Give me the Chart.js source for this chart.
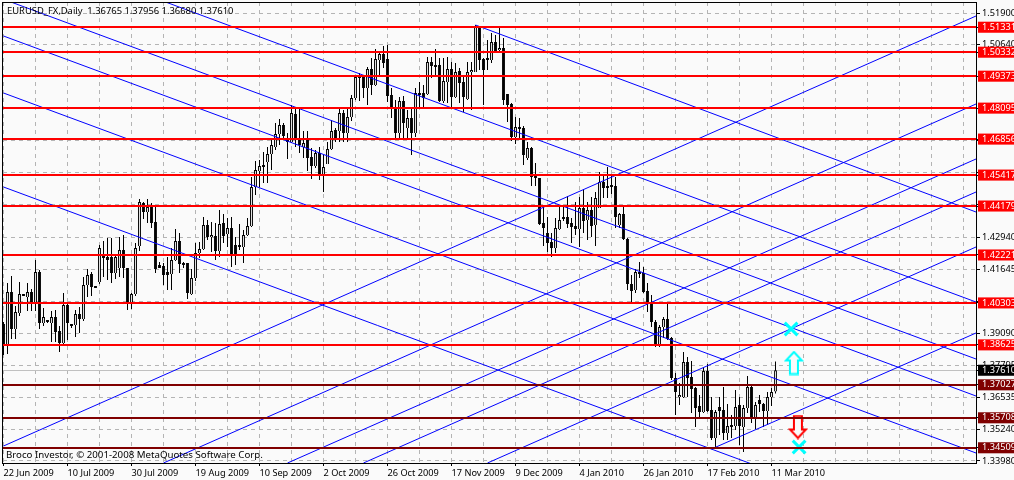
<!DOCTYPE html>
<html>
<head>
<meta charset="utf-8">
<title>EURUSD_FX,Daily</title>
<script src="https://cdn.jsdelivr.net/npm/chart.js@4"></script>
<style>html,body{margin:0;padding:0;background:#fafafa;overflow:hidden}canvas{display:block}</style>
</head>
<body>
<canvas id="c" width="1014" height="480"></canvas>
<script>
const highs=[
1.3954,1.4110,1.4138,1.4018,1.4114,1.4062,1.4110,1.4086,1.4202,1.4162,
1.4010,1.3962,1.3998,1.4002,1.3938,1.4070,1.4030,1.3942,1.4002,1.4014,
1.4134,1.4166,1.4154,1.4098,1.4262,1.4278,1.4290,1.4290,1.4226,1.4294,
1.4302,1.4170,1.4070,1.4270,1.4446,1.4434,1.4446,1.4430,1.4414,1.4194,
1.4190,1.4214,1.4250,1.4326,1.4310,1.4194,1.4190,1.4166,1.4270,1.4274,
1.4374,1.4362,1.4354,1.4350,1.4402,1.4386,1.4370,1.4374,1.4294,1.4346,
1.4322,1.4370,1.4534,1.4598,1.4602,1.4634,1.4654,1.4690,1.4750,1.4766,
1.4750,1.4710,1.4822,1.4810,1.4806,1.4718,1.4718,1.4650,1.4642,1.4654,
1.4622,1.4674,1.4762,1.4730,1.4810,1.4802,1.4810,1.4862,1.4942,1.4950,
1.4942,1.4974,1.5010,1.5046,1.5034,1.5058,1.5062,1.4890,1.4842,1.4854,
1.4858,1.4802,1.4814,1.4890,1.4914,1.4902,1.5014,1.5014,1.5046,1.5010,
1.5010,1.5014,1.4994,1.4990,1.4970,1.4934,1.4994,1.4994,1.5142,1.5138,
1.5010,1.5082,1.5110,1.5102,1.5130,1.5090,1.4866,1.4830,1.4774,1.4770,
1.4738,1.4674,1.4654,1.4590,1.4530,1.4414,1.4374,1.4310,1.4370,1.4414,
1.4414,1.4458,1.4370,1.4434,1.4454,1.4486,1.4434,1.4454,1.4474,1.4554,
1.4542,1.4574,1.4542,1.4534,1.4390,1.4414,1.4290,1.4142,1.4166,1.4194,
1.4174,1.4110,1.4062,1.3962,1.3942,1.3974,1.4026,1.3894,1.3750,1.3710,
1.3834,1.3814,1.3798,1.3694,1.3662,1.3774,1.3786,1.3654,1.3602,1.3654,
1.3694,1.3626,1.3582,1.3682,1.3654,1.3622,1.3738,1.3702,1.3634,1.3662,
1.3630,1.3674,1.3690,1.37956];
const lows=[
1.3822,1.3826,1.3886,1.3886,1.3978,1.4058,1.3998,1.3998,1.3998,1.3926,
1.3938,1.3950,1.3874,1.3874,1.3834,1.3858,1.3882,1.3930,1.3894,1.3910,
1.3958,1.4054,1.4058,1.4090,1.4106,1.4134,1.4122,1.4110,1.4126,1.4134,
1.4130,1.4002,1.4006,1.4058,1.4238,1.4366,1.4350,1.4330,1.4150,1.4170,
1.4102,1.4082,1.4082,1.4198,1.4150,1.4170,1.4046,1.4062,1.4118,1.4210,
1.4242,1.4282,1.4234,1.4202,1.4214,1.4270,1.4254,1.4174,1.4182,1.4242,
1.4190,1.4298,1.4334,1.4462,1.4494,1.4510,1.4510,1.4562,1.4642,1.4662,
1.4682,1.4606,1.4670,1.4654,1.4630,1.4610,1.4558,1.4526,1.4570,1.4522,
1.4474,1.4586,1.4642,1.4674,1.4674,1.4674,1.4674,1.4758,1.4842,1.4838,
1.4850,1.4822,1.4862,1.4898,1.4938,1.4970,1.4834,1.4770,1.4686,1.4682,
1.4682,1.4682,1.4622,1.4694,1.4814,1.4814,1.4862,1.4930,1.4934,1.4834,
1.4830,1.4830,1.4810,1.4850,1.4830,1.4794,1.4842,1.4802,1.4954,1.4962,
1.4822,1.4962,1.4990,1.5030,1.5034,1.4822,1.4754,1.4678,1.4666,1.4682,
1.4582,1.4602,1.4498,1.4498,1.4342,1.4258,1.4234,1.4214,1.4230,1.4322,
1.4358,1.4330,1.4270,1.4302,1.4254,1.4310,1.4282,1.4294,1.4258,1.4410,
1.4450,1.4450,1.4466,1.4330,1.4330,1.4282,1.4082,1.4034,1.4070,1.4130,
1.4070,1.3994,1.3934,1.3854,1.3854,1.3890,1.3882,1.3722,1.3582,1.3622,
1.3650,1.3654,1.3590,1.3534,1.3574,1.3590,1.3594,1.3482,1.3450,1.3502,
1.3482,1.3482,1.3490,1.3522,1.3462,1.3434,1.3590,1.3550,1.3526,1.3594,
1.3534,1.3542,1.3618,1.3668];
const opens=[
1.3946,1.3858,1.4074,1.3926,1.3990,1.4062,1.4054,1.4074,1.4034,1.4154,
1.3950,1.3960,1.3950,1.3974,1.3918,1.3870,1.4022,1.3942,1.3942,1.3986,
1.3966,1.4102,1.4146,1.4098,1.4114,1.4218,1.4214,1.4214,1.4150,1.4170,
1.4242,1.4170,1.4034,1.4066,1.4258,1.4430,1.4394,1.4414,1.4354,1.4182,
1.4178,1.4154,1.4146,1.4202,1.4278,1.4186,1.4190,1.4066,1.4130,1.4230,
1.4246,1.4342,1.4294,1.4298,1.4238,1.4350,1.4306,1.4330,1.4262,1.4258,
1.4254,1.4302,1.4338,1.4494,1.4558,1.4582,1.4594,1.4626,1.4654,1.4706,
1.4742,1.4686,1.4674,1.4786,1.4686,1.4654,1.4682,1.4614,1.4578,1.4630,
1.4546,1.4586,1.4646,1.4722,1.4718,1.4790,1.4710,1.4774,1.4850,1.4934,
1.4934,1.4890,1.4966,1.4902,1.5002,1.5026,1.5006,1.4862,1.4810,1.4710,
1.4838,1.4730,1.4770,1.4710,1.4870,1.4870,1.4866,1.4994,1.4978,1.4982,
1.4838,1.4914,1.4966,1.4854,1.4958,1.4914,1.4846,1.4954,1.4954,1.5134,
1.5006,1.5010,1.5002,1.5074,1.5042,1.5050,1.4866,1.4826,1.4694,1.4734,
1.4730,1.4610,1.4650,1.4538,1.4530,1.4350,1.4310,1.4274,1.4250,1.4326,
1.4374,1.4374,1.4350,1.4338,1.4326,1.4410,1.4362,1.4402,1.4342,1.4410,
1.4514,1.4498,1.4498,1.4498,1.4342,1.4386,1.4286,1.4106,1.4082,1.4154,
1.4150,1.4078,1.4030,1.3954,1.3866,1.3934,1.3966,1.3890,1.3730,1.3654,
1.3654,1.3794,1.3734,1.3690,1.3618,1.3594,1.3758,1.3602,1.3490,1.3614,
1.3602,1.3510,1.3542,1.3538,1.3622,1.3534,1.3610,1.3694,1.3574,1.3642,
1.3626,1.3598,1.3654,1.36765];
const closes=[
1.3862,1.4074,1.3926,1.3994,1.4066,1.4058,1.4074,1.4034,1.4154,1.3950,
1.3974,1.3954,1.3974,1.3914,1.3870,1.4022,1.3950,1.3938,1.3986,1.3966,
1.4102,1.4142,1.4094,1.4090,1.4250,1.4210,1.4202,1.4150,1.4214,1.4242,
1.4170,1.4034,1.4066,1.4250,1.4434,1.4394,1.4414,1.4350,1.4166,1.4170,
1.4142,1.4142,1.4202,1.4278,1.4186,1.4182,1.4070,1.4130,1.4230,1.4246,
1.4342,1.4294,1.4298,1.4238,1.4346,1.4298,1.4330,1.4218,1.4218,1.4254,
1.4302,1.4338,1.4494,1.4562,1.4578,1.4574,1.4626,1.4662,1.4706,1.4742,
1.4698,1.4674,1.4790,1.4690,1.4662,1.4670,1.4610,1.4578,1.4630,1.4546,
1.4574,1.4646,1.4718,1.4690,1.4790,1.4710,1.4774,1.4850,1.4934,1.4930,
1.4890,1.4966,1.4902,1.5006,1.5026,1.4990,1.4858,1.4806,1.4710,1.4838,
1.4750,1.4770,1.4710,1.4870,1.4862,1.4850,1.4994,1.4978,1.4974,1.4838,
1.4918,1.4966,1.4854,1.4954,1.4910,1.4854,1.4954,1.4958,1.5134,1.5002,
1.4962,1.5002,1.5074,1.5038,1.5050,1.4842,1.4822,1.4694,1.4734,1.4726,
1.4622,1.4650,1.4534,1.4530,1.4346,1.4330,1.4270,1.4250,1.4330,1.4362,
1.4366,1.4346,1.4334,1.4326,1.4410,1.4358,1.4402,1.4338,1.4450,1.4514,
1.4490,1.4490,1.4494,1.4374,1.4386,1.4286,1.4106,1.4078,1.4154,1.4146,
1.4074,1.4034,1.3954,1.3866,1.3934,1.3966,1.3886,1.3730,1.3674,1.3658,
1.3794,1.3730,1.3686,1.3610,1.3594,1.3758,1.3598,1.3490,1.3594,1.3598,
1.3510,1.3538,1.3534,1.3614,1.3538,1.3610,1.3694,1.3574,1.3622,1.3626,
1.3598,1.3654,1.3674,1.3761];

const dateLabels=['22 Jun 2009','10 Jul 2009','30 Jul 2009','19 Aug 2009','10 Sep 2009','2 Oct 2009','26 Oct 2009','17 Nov 2009','9 Dec 2009','4 Jan 2010','26 Jan 2010','17 Feb 2010','11 Mar 2010'];
const resistanceLevels=[1.51331,1.50332,1.49373,1.48095,1.46856,1.45417,1.44179,1.42221,1.40303,1.38625];
const supportLevels=[1.37027,1.35708,1.34509];
const lastPrice=[1.37610];
const axisPrices=[1.51900,1.50640,1.49350,1.48070,1.46790,1.45510,1.44230,1.42940,1.41645,1.40370,1.39090,1.37795,1.36535,1.35240,1.33980];
const unlabelledPrices=[1.49350,1.48070,1.46790,1.45510,1.44230,1.40370];
// Gann-style rays: [startBar, startPrice, endBar, endPrice]
const fallingRays=[[0,1.5474,243.125,1.4034],[0,1.5245,243.125,1.3806],[0,1.5098,243.125,1.3658],[0,1.4870,243.125,1.3430],[0,1.4494,243.125,1.3054],[118,1.5142,243.125,1.4394]];
const risingRays=[[0,1.3458,243.125,1.5178],[40,1.3390,243.125,1.4826],[71,1.3390,243.125,1.4606],[90,1.3390,243.125,1.4474],[121,1.3390,243.125,1.4254],[177,1.3446,243.125,1.3910]];
const crossMarks=[[196.9,1.3926],[198.9,1.3454]];
const upArrowMark=[[197.6,1.3790]];
const downArrowMark=[[198.6,1.3534]];
const titleText='EURUSD_FX,Daily  1.36765 1.37956 1.36680 1.37610';
const footerText='Broco Investor, \u00A9 2001-2008 MetaQuotes Software Corp.';

const BG='#fafafa', FONT='"Noto Sans"', GRID='#b4b4b4';
const xMin=-0.125, xMax=243.125, yMin=1.3390, yMax=1.5234;

function arrowImage(color,down){
  const c=document.createElement('canvas');c.width=20;c.height=25;
  const g=c.getContext('2d');
  if(down){g.translate(0,25);g.scale(1,-1);}
  g.beginPath();
  g.moveTo(10,1.5);g.lineTo(18,10);g.lineTo(14,10);g.lineTo(14,23.5);g.lineTo(6,23.5);g.lineTo(6,10);g.lineTo(2,10);g.closePath();
  g.fillStyle=BG;g.fill();g.lineWidth=2;g.strokeStyle=color;g.stroke();
  return c;
}
function lineSet(points,color,width,order,tag){
  return {type:'line',data:points,borderColor:color,borderWidth:width,pointRadius:0,fill:false,tension:0,order,crisp:tag,borderCapStyle:'butt'};
}
const ray=r=>[{x:r[0],y:r[1]},{x:r[2],y:r[3]}];
const level=v=>[{x:xMin,y:v},{x:xMax,y:v}];
const bars=highs.map((_,i)=>i);
const datasets=[
  {label:'wick',data:bars.map(i=>({x:i,y:[lows[i],highs[i]]})),backgroundColor:'#000',borderWidth:0,maxBarThickness:1,grouped:false,order:6},
  {label:'body',data:bars.map(i=>({x:i,y:[Math.min(opens[i],closes[i]),Math.max(opens[i],closes[i])]})),
    backgroundColor:bars.map(i=>closes[i]>=opens[i]?'#fff':'#000'),borderColor:'#000',borderWidth:1,maxBarThickness:3,minBarLength:2,grouped:false,order:5},
  ...lastPrice.map(v=>lineSet(level(v),'#c0c0c0',1,7,true)),
  ...fallingRays.map(r=>lineSet(ray(r),'#0000ff',1,4)),
  ...risingRays.map(r=>lineSet(ray(r),'#0000ff',1,4)),
  {type:'line',showLine:false,data:crossMarks.map(m=>({x:m[0],y:m[1]})),pointStyle:'crossRot',pointRadius:9,pointBorderWidth:3,pointBorderColor:'#00ffff',order:3},
  {type:'line',showLine:false,data:upArrowMark.map(m=>({x:m[0],y:m[1]})),pointStyle:arrowImage('#00ffff',false),pointRadius:10,order:3},
  {type:'line',showLine:false,data:downArrowMark.map(m=>({x:m[0],y:m[1]})),pointStyle:arrowImage('#ff0000',true),pointRadius:10,order:3},
  ...resistanceLevels.map(v=>lineSet(level(v),'#ff0000',2,2,true)),
  ...supportLevels.map(v=>lineSet(level(v),'#800000',2,2,true))
];

const boxColor=v=>resistanceLevels.includes(v)?'#ff0000':supportLevels.includes(v)?'#800000':lastPrice.includes(v)?'#000000':null;
const noPad=s=>{s.paddingLeft=s.paddingRight=s.paddingTop=s.paddingBottom=0;};

const decor={
  id:'decor',
  beforeDraw(ch){const g=ch.ctx;g.save();g.fillStyle=BG;g.fillRect(0,0,ch.width,ch.height);g.restore();},
  beforeDatasetsDraw(ch){
    ch.data.datasets.forEach((d,i)=>{ if(d.crisp){ ch.getDatasetMeta(i).data.forEach(p=>{p.y=Math.round(p.y)+(d.borderWidth===1?0.5:0);}); } });
  },
  afterDraw(ch){
    const g=ch.ctx,a=ch.chartArea;
    g.save();
    g.strokeStyle='#000';g.lineWidth=1;
    g.strokeRect(a.left-0.5,a.top+0.5,a.right-a.left+1,a.bottom-a.top);
    g.fillStyle='#000';g.textBaseline='middle';g.textAlign='left';
    g.font='9.4px '+FONT;
    g.fillText(titleText,7,11);
    g.font='9.7px '+FONT;
    g.fillText(footerText,6,455);
    g.restore();
  }
};

new Chart(document.getElementById('c'),{
  type:'bar',
  data:{datasets},
  plugins:[decor],
  options:{
    responsive:false,animation:false,devicePixelRatio:1,
    events:[],
    layout:{autoPadding:false,padding:{left:3,top:2,right:0,bottom:0}},
    plugins:{legend:{display:false},tooltip:{enabled:false},title:{display:false}},
    scales:{
      x:{
        type:'linear',offset:false,min:xMin,max:xMax,
        afterFit(s){s.height=17;noPad(s);},
        afterBuildTicks(s){const t=[];for(let v=0;v<=240;v+=8)t.push({value:v});s.ticks=t;},
        grid:{offset:false,color:GRID,lineWidth:1,drawOnChartArea:true,drawTicks:true,tickLength:3,tickColor:c=>(c.tick&&c.tick.value%16===0&&c.tick.value/16<dateLabels.length)?'#000':'rgba(0,0,0,0)'},
        border:{display:false,dash:[4,4]},
        ticks:{autoSkip:false,maxRotation:0,minRotation:0,align:'start',padding:2,color:'#000',font:{family:FONT,size:9.2},
          callback:v=>(v%16===0&&dateLabels[v/16])||''}
      },
      y:{
        type:'linear',position:'right',min:yMin,max:yMax,
        afterFit(s){s.width=38;noPad(s);},
        afterBuildTicks(s){
          s.ticks=[...axisPrices,...resistanceLevels,...supportLevels,...lastPrice].map(value=>({value}));
        },
        grid:{color:c=>(c.tick&&boxColor(c.tick.value))?'rgba(0,0,0,0)':GRID,lineWidth:1,tickLength:4,tickColor:'#000',drawOnChartArea:true,drawTicks:true},
        border:{display:false,dash:[4,4]},
        ticks:{autoSkip:false,padding:2,crossAlign:'near',
          color:c=>boxColor(c.tick.value)?'#fff':'#000',
          font:{family:FONT,size:9.2},
          showLabelBackdrop:c=>!!boxColor(c.tick.value),
          backdropColor:c=>boxColor(c.tick.value)||'rgba(0,0,0,0)',
          backdropPadding:{left:4,right:8,top:0,bottom:0},
          callback:v=>unlabelledPrices.includes(v)?'':v.toFixed(5)}
      }
    }
  }
});
</script>
</body>
</html>
